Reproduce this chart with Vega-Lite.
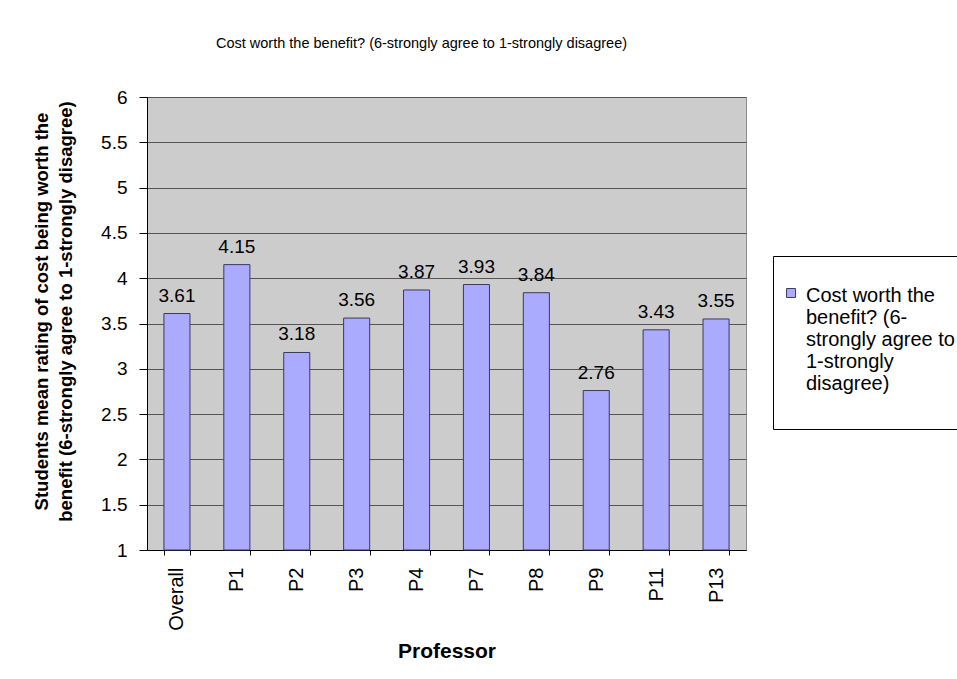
{
  "$schema": "https://vega.github.io/schema/vega-lite/v6.json",
  "width": 599,
  "height": 453,
  "autosize": {"type": "none"},
  "padding": {"left": 147, "top": 97, "right": 211, "bottom": 129},
  "background": "white",
  "config": {
    "font": "Liberation Sans",
    "view": {"fill": "#CCCCCC", "stroke": "#8C8C8C", "strokeWidth": 1}
  },
  "title": {
    "text": "Cost worth the benefit? (6-strongly agree to 1-strongly disagree)",
    "fontSize": 14.5,
    "fontWeight": "normal",
    "color": "black",
    "anchor": "middle",
    "baseline": "alphabetic",
    "dx": -25,
    "offset": 26
  },
  "data": {
    "values": [
      {"Professor": "Overall", "rating": 3.61, "series": "Cost worth the benefit? (6-strongly agree to 1-strongly disagree)"},
      {"Professor": "P1", "rating": 4.15, "series": "Cost worth the benefit? (6-strongly agree to 1-strongly disagree)"},
      {"Professor": "P2", "rating": 3.18, "series": "Cost worth the benefit? (6-strongly agree to 1-strongly disagree)"},
      {"Professor": "P3", "rating": 3.56, "series": "Cost worth the benefit? (6-strongly agree to 1-strongly disagree)"},
      {"Professor": "P4", "rating": 3.87, "series": "Cost worth the benefit? (6-strongly agree to 1-strongly disagree)"},
      {"Professor": "P7", "rating": 3.93, "series": "Cost worth the benefit? (6-strongly agree to 1-strongly disagree)"},
      {"Professor": "P8", "rating": 3.84, "series": "Cost worth the benefit? (6-strongly agree to 1-strongly disagree)"},
      {"Professor": "P9", "rating": 2.76, "series": "Cost worth the benefit? (6-strongly agree to 1-strongly disagree)"},
      {"Professor": "P11", "rating": 3.43, "series": "Cost worth the benefit? (6-strongly agree to 1-strongly disagree)"},
      {"Professor": "P13", "rating": 3.55, "series": "Cost worth the benefit? (6-strongly agree to 1-strongly disagree)"}
    ]
  },
  "encoding": {
    "x": {
      "field": "Professor",
      "type": "nominal",
      "sort": null,
      "scale": {"paddingInner": 0.565, "paddingOuter": 0.2825},
      "axis": {
        "title": "Professor",
        "titleFontSize": 21,
        "titleFontWeight": "bold",
        "titleColor": "black",
        "titlePadding": 10,
        "labelAngle": -90,
        "labelAlign": "right",
        "labelBaseline": "middle",
        "labelFontSize": 20,
        "labelColor": "black",
        "labelPadding": 12,
        "tickBand": "extent",
        "tickSize": 5,
        "tickColor": "black",
        "domainColor": "black",
        "grid": false
      }
    },
    "y": {
      "field": "rating",
      "type": "quantitative",
      "scale": {"domain": [1, 6], "zero": false, "nice": false},
      "axis": {
        "title": ["Students mean rating of cost being worth the", "benefit (6-strongly agree to 1-strongly disagree)"],
        "titleFontSize": 18.5,
        "titleFontWeight": "bold",
        "titleColor": "black",
        "titleLineHeight": 24,
        "titlePadding": 25,
        "titleY": 214,
        "values": [1, 1.5, 2, 2.5, 3, 3.5, 4, 4.5, 5, 5.5, 6],
        "format": "~g",
        "labelFontSize": 19,
        "labelColor": "black",
        "labelPadding": 12,
        "tickSize": 8,
        "tickColor": "black",
        "domainColor": "black",
        "grid": true,
        "gridColor": "#555555",
        "gridOpacity": 1
      }
    }
  },
  "layer": [
    {
      "mark": {"type": "bar", "stroke": "#3A3A5C", "strokeWidth": 1},
      "encoding": {
        "y2": {"datum": 1},
        "color": {
          "field": "series",
          "type": "nominal",
          "scale": {"range": ["#AAAAFF"]},
          "legend": {
            "orient": "none",
            "legendX": 626,
            "legendY": 159,
            "title": " ",
            "titleFontSize": 1,
            "titlePadding": 6,
            "padding": 13,
            "strokeColor": "black",
            "fillColor": "white",
            "symbolType": "M-2.1,0.56H-0.1V2.56H-2.1Z",
            "symbolSize": 81,
            "symbolStrokeColor": "#3A3A5C",
            "symbolStrokeWidth": 1,
            "labelFontSize": 20,
            "labelLineHeight": 22.7,
            "labelBaseline": "top",
            "labelColor": "black",
            "labelLimit": 400,
            "labelOffset": 0,
            "labelExpr": "['Cost worth the', 'benefit? (6-', 'strongly agree to', '1-strongly', 'disagree)', '']"
          }
        }
      }
    },
    {
      "mark": {"type": "text", "baseline": "bottom", "dy": -8, "fontSize": 19, "color": "black"},
      "encoding": {
        "text": {"field": "rating", "type": "quantitative", "format": ".2f"}
      }
    }
  ]
}
